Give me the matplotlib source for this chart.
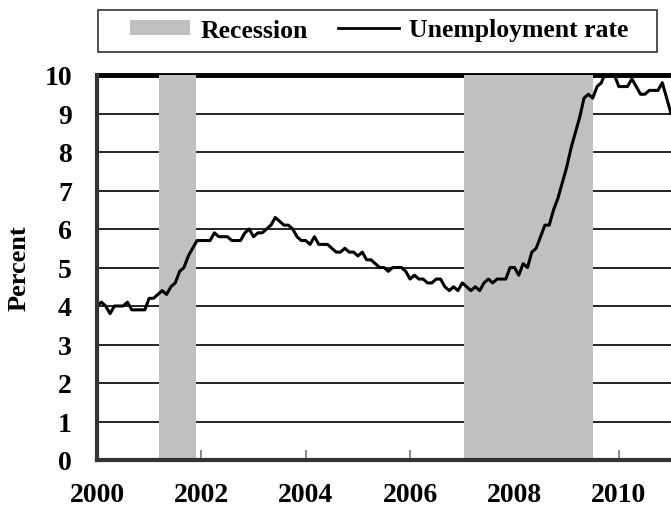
import matplotlib

matplotlib.use("Agg")
import matplotlib.pyplot as plt
import numpy as np
from matplotlib.lines import Line2D
from matplotlib.patches import Patch, Rectangle

plt.rcParams["font.family"] = ["Liberation Serif", "DejaVu Serif"]
plt.rcParams["font.weight"] = "bold"

# monthly unemployment rate, Jan 2000 .. Jan 2011
rate_2000 = [4.0, 4.1, 4.0, 3.8, 4.0, 4.0, 4.0, 4.1, 3.9, 3.9, 3.9, 3.9]
rate_2001 = [4.2, 4.2, 4.3, 4.4, 4.3, 4.5, 4.6, 4.9, 5.0, 5.3, 5.5, 5.7]
rate_2002 = [5.7, 5.7, 5.7, 5.9, 5.8, 5.8, 5.8, 5.7, 5.7, 5.7, 5.9, 6.0]
rate_2003 = [5.8, 5.9, 5.9, 6.0, 6.1, 6.3, 6.2, 6.1, 6.1, 6.0, 5.8, 5.7]
rate_2004 = [5.7, 5.6, 5.8, 5.6, 5.6, 5.6, 5.5, 5.4, 5.4, 5.5, 5.4, 5.4]
rate_2005 = [5.3, 5.4, 5.2, 5.2, 5.1, 5.0, 5.0, 4.9, 5.0, 5.0, 5.0, 4.9]
rate_2006 = [4.7, 4.8, 4.7, 4.7, 4.6, 4.6, 4.7, 4.7, 4.5, 4.4, 4.5, 4.4]
rate_2007 = [4.6, 4.5, 4.4, 4.5, 4.4, 4.6, 4.7, 4.6, 4.7, 4.7, 4.7, 5.0]
rate_2008 = [5.0, 4.8, 5.1, 5.0, 5.4, 5.5, 5.8, 6.1, 6.1, 6.5, 6.8, 7.2]
rate_2009 = [7.6, 8.1, 8.5, 8.9, 9.4, 9.5, 9.4, 9.7, 9.8, 10.1, 10.0, 10.0]
rate_2010 = [9.7, 9.7, 9.7, 9.9, 9.7, 9.5, 9.5, 9.6, 9.6, 9.6, 9.8, 9.4]
rate_2011 = [9.0]

recession_starts = [2001.18, 2007.04]
recession_ends = [2001.9, 2009.5]

x_ticks = [2000, 2002, 2004, 2006, 2008, 2010]
y_ticks = list(range(0, 11))

rates = (rate_2000 + rate_2001 + rate_2002 + rate_2003 + rate_2004 + rate_2005
         + rate_2006 + rate_2007 + rate_2008 + rate_2009 + rate_2010 + rate_2011)
months = 2000 + np.arange(len(rates)) / 12.0

SHADE = "#c0c0c0"
FS = 20

fig = plt.figure(figsize=(6.71, 5.10), dpi=100)
ax = fig.add_axes([97 / 671, 1 - 461 / 510, 1 - 97 / 671, 385 / 510])

for y in y_ticks[1:-1]:
    ax.axhline(y, color="black", lw=1.2, zorder=1)
ax.axhline(10, color="black", lw=3.5, zorder=1, clip_on=False)

for start, end in zip(recession_starts, recession_ends):
    ax.axvspan(start, end, color=SHADE, lw=0, zorder=2)

ax.plot(months, rates, color="black", lw=2.2, zorder=3)

ax.set_xlim(2000, 2011)
ax.set_ylim(0, 10)
ax.set_xticks(x_ticks)
ax.set_yticks(y_ticks)
ax.tick_params(axis="x", direction="in", length=7, width=1.2, color="#777777",
               pad=16, labelsize=FS)
ax.tick_params(axis="y", length=0, pad=18, labelsize=FS)
for lab in ax.get_xticklabels() + ax.get_yticklabels():
    lab.set_fontweight("bold")

ax.spines["top"].set_visible(False)
ax.spines["right"].set_visible(False)
for side in ("left", "bottom"):
    ax.spines[side].set_linewidth(3)
    ax.spines[side].set_color("#333333")
    ax.spines[side].set_zorder(4)

ax.set_ylabel("Percent", fontsize=19, fontweight="bold", labelpad=10)

# legend box
fig.patches.append(Rectangle((98 / 671, 1 - 53 / 510), (657 - 98) / 671,
                             42 / 510, transform=fig.transFigure,
                             facecolor="white", edgecolor="#333333", lw=1.2))
handles = [Patch(facecolor=SHADE, edgecolor="none"),
           Line2D([], [], color="black", lw=2)]
fig.legend(handles, ["Recession", "Unemployment rate"], loc="center",
           bbox_to_anchor=(379 / 671, 1 - 31 / 510), ncol=2, frameon=False,
           prop={"size": 18.5, "weight": "bold"}, handlelength=2.35,
           handleheight=0.5, handletextpad=0.4, columnspacing=1.2,
           borderpad=0.2)

fig.savefig("out.png", dpi=100)
